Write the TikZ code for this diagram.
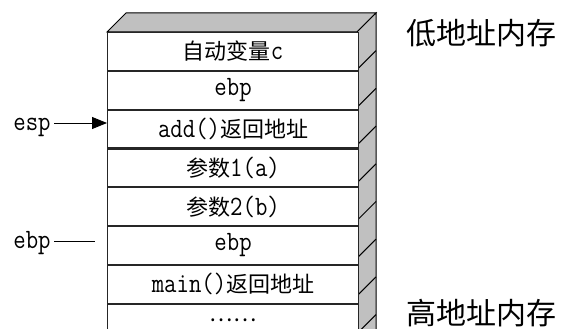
\documentclass[tikz,border=0pt]{standalone}
\usepackage{fontspec}
\usetikzlibrary{arrows.meta}
\newfontfamily\cjk{Noto Sans CJK SC}
\newfontfamily\lat{Latin Modern Mono}[FakeStretch=0.86]
\definecolor{sidegray}{HTML}{C0C0C0}
\tikzset{
  cell/.style={draw=black!85, line width=1.1pt, fill=white, minimum width=251pt, minimum height=37.7pt, inner sep=0pt, anchor=north west, font=\lat\fontsize{28}{28}\selectfont},
  lbl/.style={font=\lat\fontsize{28}{28}\selectfont, inner sep=0pt, anchor=base},
  side/.style={draw=black, line width=1pt, fill=sidegray},
  big/.style={font=\cjk\fontsize{30}{30}\selectfont, inner sep=0pt},
  ptr/.style={line width=0.9pt}
}
\newcommand{\zh}[1]{{\cjk\fontsize{22}{22}\selectfont #1}}
\begin{document}
\begin{tikzpicture}[x=1pt,y=-1pt]
\useasboundingbox (0,0) rectangle (565,329);
\begin{scope}
\clip (0,0) rectangle (565,329);
% top and side faces
\draw[side] (107,32) -- (126,13) -- (376,13) -- (357,32) -- cycle;
\draw[side] (357,32) -- (376,13) -- (376,345) -- (357,364) -- cycle;
\foreach \y in {69.7,107.4,145.1,182.8,220.5,258.2,295.9,333.6}
  \draw[line width=1pt] (357,\y) -- (376,\y-19);
% rows
\node[cell] (r1) at (107,32) {\zh{自动变量}c};
\node[cell] (r2) at (r1.south west) {ebp};
\node[cell] (r3) at (r2.south west) {add()\zh{返回地址}};
\node[cell] (r4) at (r3.south west) {\zh{参数}1(a)};
\node[cell] (r5) at (r4.south west) {\zh{参数}2(b)};
\node[cell] (r6) at (r5.south west) {ebp};
\node[cell] (r7) at (r6.south west) {main()\zh{返回地址}};
\node[cell] (r8) at (r7.south west) {\raisebox{6pt}{\zh{……}}};
\end{scope}
% pointers
\node[lbl] (esp) at (32,130) {esp};
\coordinate (espstart) at (54,123);
\draw[ptr, -{Triangle[length=15pt,width=12pt]}] (espstart) -- (r3.west |- espstart);
\node[lbl] (ebp) at (32,248) {ebp};
\coordinate (ebpstart) at (54,241);
\coordinate (ebpend) at (95,241);
\draw[ptr] (ebpstart) -- (ebpend);
% address labels
\node[big] (low) at (481,33) {低地址内存};
\node[big] (high) at (481,313) {高地址内存};
\end{tikzpicture}
\end{document}
